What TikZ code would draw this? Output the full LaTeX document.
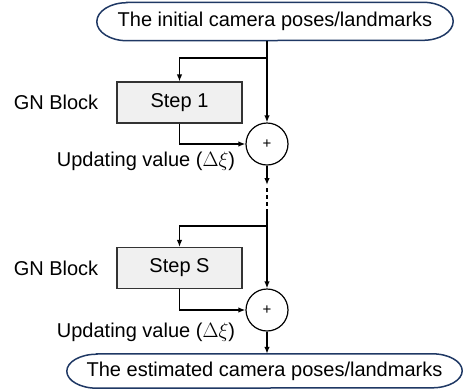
\documentclass[tikz,border=0pt]{standalone}
\usepackage{fontspec}
\setmainfont{Liberation Sans}
\usetikzlibrary{arrows.meta}

\definecolor{navyline}{RGB}{31,56,100}
\tikzstyle{terminal}=[rectangle, inner sep=0pt]
\tikzstyle{outline}=[draw=navyline, line width=1.5pt]
\tikzstyle{stepbox}=[rectangle, draw=black!80, fill=black!6, line width=1.1pt, minimum width=125pt, minimum height=41pt]
\tikzstyle{adder}=[circle, draw=black, fill=white, line width=1.2pt, minimum size=42pt, inner sep=0pt, font=\fontsize{15}{17}\selectfont]
\tikzstyle{flow}=[line width=1.4pt, -{Latex[length=7pt,width=5.5pt]}]

\begin{document}
\begin{tikzpicture}[x=1pt, y=-1pt, font=\fontsize{20}{24}\selectfont]
			\useasboundingbox (0,0) rectangle (466,389);
			%Start and end of the chain
			\node[terminal, minimum width=356pt, minimum height=38pt] (init) at (275,21.5) {The initial camera poses/landmarks};
			\node[terminal, minimum width=395pt, minimum height=34pt] (final) at (264.5,371) {The estimated camera poses/landmarks};
			\foreach \name/\ry in {init/19pt, final/17pt}
			\draw[outline] ([xshift=30pt]\name.north west) -- ([xshift=-30pt]\name.north east)
				arc[start angle=90, end angle=-90, x radius=30pt, y radius=\ry]
				-- ([xshift=30pt]\name.south west)
				arc[start angle=270, end angle=90, x radius=30pt, y radius=\ry] -- cycle;
			%The GN blocks
			\foreach \name/\lbl/\ys/\yb/\ya/\yu in {1/1/58/102.5/144/161, 2/S/226/268/310/332}
			{
				\coordinate (split\name) at (267,\ys);
				\node[stepbox] (step\name) at (179.5,\yb) {Step \lbl};
				\node (gn\name) at (56,\yb) {GN Block};
				\node[adder] (add\name) at (267,\ya) {+};
				\node (upd\name) at (146,\yu) {Updating value ($\Delta\xi$)};
				\draw[flow] (split\name) -| (step\name.north);
				\draw[flow] (step\name.south) |- (add\name.west);
			}
			%The main line
			\coordinate (dots1) at (267,185);
			\coordinate (dots2) at (267,211);
			\draw[flow] (init.south -| add1.north) -- (add1.north);
			\draw[flow] (add1.south) -- (dots1);
			\draw[line width=1.4pt, dash pattern=on 4pt off 3pt] ([yshift=-3pt]dots1) -- (dots2);
			\draw[flow] (dots2) -- (add2.north);
			\draw[flow] (add2.south) -- (add2.south |- final.north);
\end{tikzpicture}
\end{document}
